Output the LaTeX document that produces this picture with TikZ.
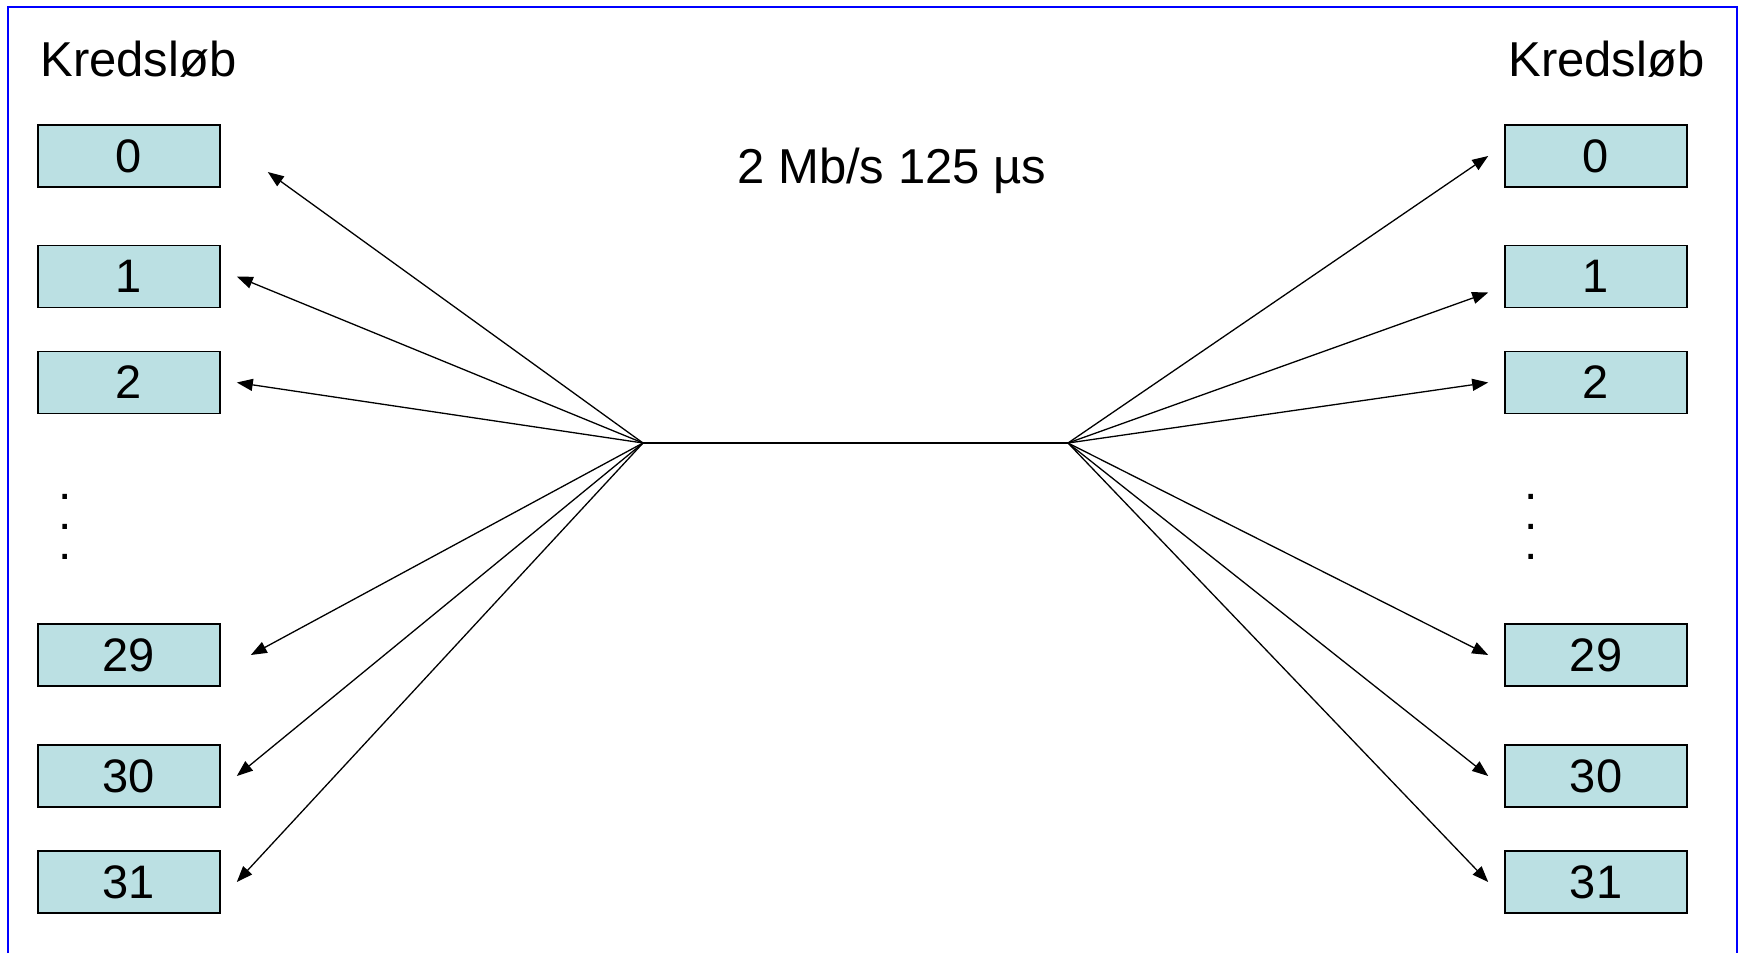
\documentclass[tikz,border=0pt]{standalone}
\usepackage{fontspec}
\setmainfont{Liberation Sans}
\usepackage{tikz}
\usetikzlibrary{arrows.meta, positioning}
\definecolor{kanalfarve}{RGB}{187,224,227}

\begin{document}
\begin{tikzpicture}[x=0.5pt, y=-0.5pt,
    kanal/.style={draw=black, fill=kanalfarve, line width=0.8pt, rectangle, text centered, minimum height=31pt, minimum width=91pt, inner sep=0pt, font=\fontsize{23.5}{28}\selectfont},
    tekst/.style={anchor=base west, inner sep=0pt, font=\fontsize{24.5}{28}\selectfont},
    pil/.style={-{Triangle[length=8pt, width=6pt]}, line width=0.65pt}]

    \useasboundingbox (0,0) rectangle (1740,953);

    % Frame around the slide
    \draw[blue, line width=1pt] (8,953) -- (8,7) -- (1737,7) -- (1737,953);

    % Headings and rate
    \node (kredsV) [tekst] at (40,76) {Kredsløb};
    \node (kredsH) [tekst] at (1508,76) {Kredsløb};
    \node (hastighed) [tekst] at (737,183) {2 Mb/s 125 µs};

    % Circuits on the left side
    \node (L0) [kanal] at (129,156) {0};
    \node (L1) [kanal] at (129,276.5) {1};
    \node (L2) [kanal] at (129,382.5) {2};
    \node (L29) [kanal] at (129,655) {29};
    \node (L30) [kanal] at (129,776) {30};
    \node (L31) [kanal] at (129,882) {31};

    % Circuits on the right side
    \node (R0) [kanal] at (1596,156) {0};
    \node (R1) [kanal] at (1596,276.5) {1};
    \node (R2) [kanal] at (1596,382.5) {2};
    \node (R29) [kanal] at (1596,655) {29};
    \node (R30) [kanal] at (1596,776) {30};
    \node (R31) [kanal] at (1596,882) {31};

    % Dots between 2 and 29
    \node (prikV) [tekst, anchor=center, align=center, font=\fontsize{24}{15}\selectfont] at (65,527) {.\\.\\.};
    \node (prikH) [tekst, anchor=center, align=center, font=\fontsize{24}{15}\selectfont] at (1531,527) {.\\.\\.};

    % The shared line
    \coordinate (navL) at (643,443);
    \coordinate (navR) at (1068,443);
    \draw[line width=0.65pt] (navL) -- (navR);

    % Fan out to the left circuits
    \draw[pil] (navL) -- ([xshift=23.5pt, yshift=-8pt]L0.east);
    \draw[pil] (navL) -- ([xshift=8pt]L1.east);
    \draw[pil] (navL) -- ([xshift=8pt]L2.east);
    \draw[pil] (navL) -- ([xshift=15pt]L29.east);
    \draw[pil] (navL) -- ([xshift=8pt]L30.east);
    \draw[pil] (navL) -- ([xshift=8pt]L31.east);

    % Fan out to the right circuits
    \draw[pil] (navR) -- ([xshift=-8pt]R0.west);
    \draw[pil] (navR) -- ([xshift=-8pt, yshift=-8pt]R1.west);
    \draw[pil] (navR) -- ([xshift=-8pt]R2.west);
    \draw[pil] (navR) -- ([xshift=-8pt]R29.west);
    \draw[pil] (navR) -- ([xshift=-8pt]R30.west);
    \draw[pil] (navR) -- ([xshift=-8pt]R31.west);

\end{tikzpicture}
\end{document}
